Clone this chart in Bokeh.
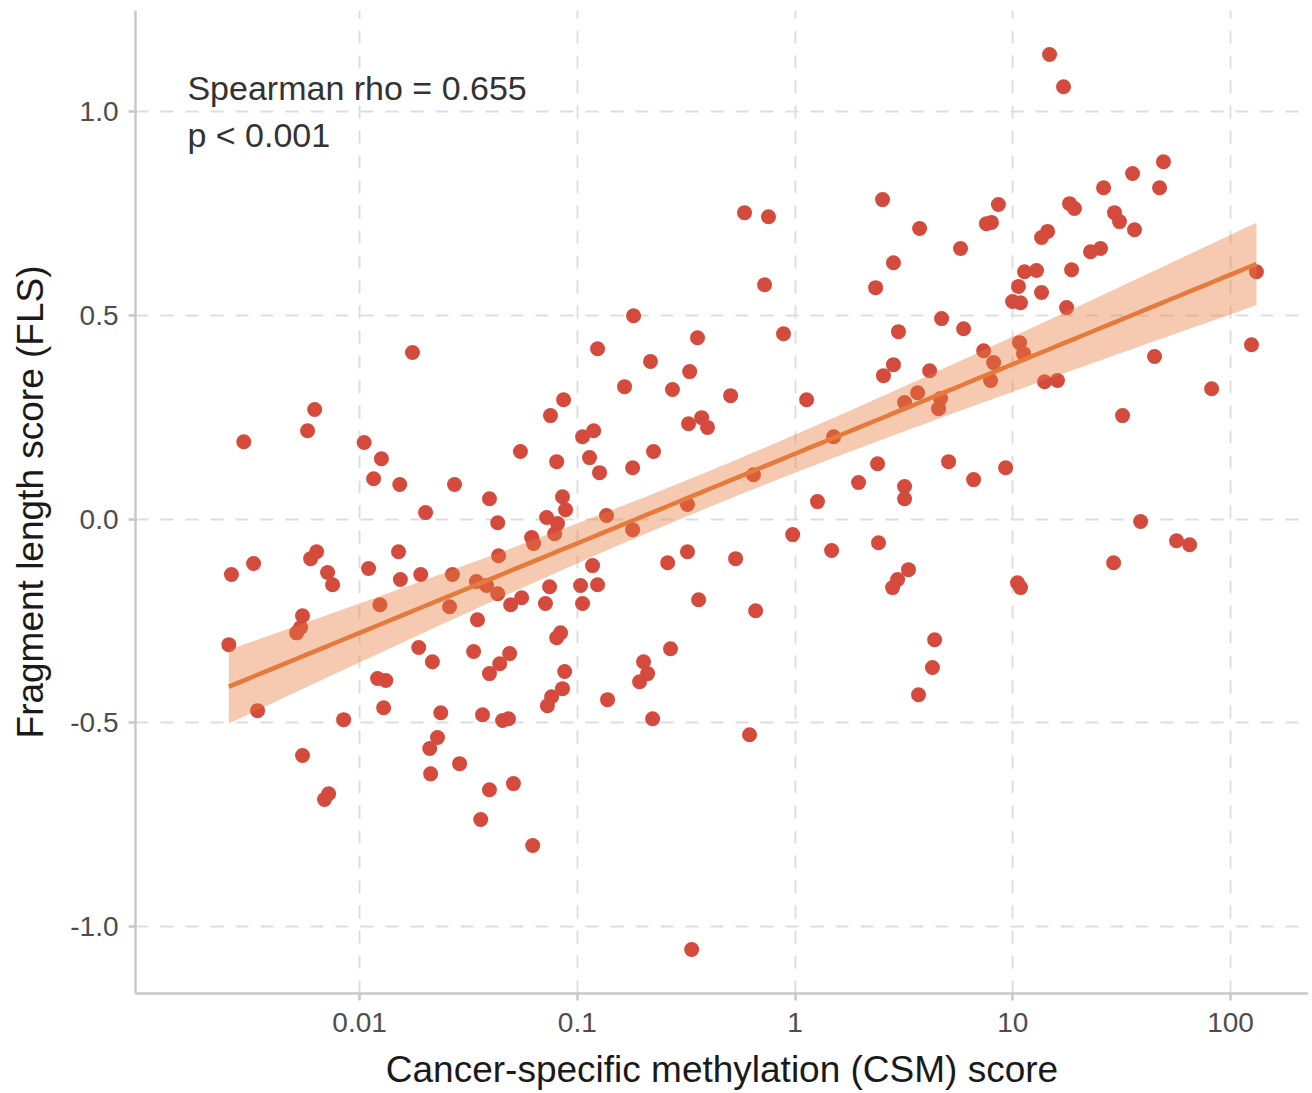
import numpy as np
from bokeh.plotting import figure
from bokeh.models import Range1d, CustomJSTickFormatter, NumeralTickFormatter, Label, FixedTicker
from bokeh.embed import file_html
from bokeh.resources import INLINE

# ---- data ----
csm_score = [
    0.00251, 0.00258, 0.00294, 0.00326, 0.00340, 0.00514, 0.00536, 0.00547, 0.00547, 0.00577,
    0.00596, 0.00622, 0.00635, 0.00690, 0.00713, 0.00721, 0.00752, 0.00845, 0.0105, 0.0110,
    0.0116, 0.0121, 0.0124, 0.0126, 0.0129, 0.0132, 0.0151, 0.0153, 0.0154, 0.0175,
    0.0187, 0.0191, 0.0201, 0.0210, 0.0212, 0.0216, 0.0228, 0.0236, 0.0259, 0.0267,
    0.0273, 0.0288, 0.0334, 0.0344, 0.0348, 0.0360, 0.0367, 0.0383, 0.0395, 0.0395,
    0.0395, 0.0431, 0.0431, 0.0435, 0.0440, 0.0454, 0.0483, 0.0489, 0.0494, 0.0509,
    0.0548, 0.0555, 0.0617, 0.0630, 0.0624, 0.0714, 0.0723, 0.0729, 0.0746, 0.0753,
    0.0762, 0.0787, 0.0804, 0.0804, 0.0811, 0.0838, 0.0855, 0.0855, 0.0865, 0.0875,
    0.0883, 0.1035, 0.1057, 0.1057, 0.1138, 0.1175, 0.1189, 0.1239, 0.1239, 0.1265,
    0.1362, 0.1377, 0.1648, 0.1795, 0.1795, 0.1813, 0.1932, 0.2014, 0.2104, 0.2168,
    0.2218, 0.2239, 0.2600, 0.2679, 0.2735, 0.3206, 0.3206, 0.3243, 0.3281, 0.3350,
    0.3565, 0.3606, 0.3724, 0.3963, 0.5058, 0.5333, 0.5861, 0.6180, 0.6442, 0.6592,
    0.7244, 0.7551, 0.8851, 0.9750, 1.130, 1.268, 1.472, 1.503, 1.957, 2.344,
    2.393, 2.417, 2.523, 2.547, 2.805, 2.831, 2.831, 2.958, 2.985, 3.184,
    3.184, 3.184, 3.319, 3.656, 3.690, 3.733, 4.150, 4.276, 4.375, 4.560,
    4.656, 4.710, 5.070, 5.754, 5.943, 6.607, 7.345, 7.568, 7.907, 7.980,
    8.166, 8.590, 9.268, 9.977, 10.51, 10.62, 10.74, 10.85, 10.85, 11.20,
    11.32, 12.85, 13.55, 13.55, 13.99, 14.45, 14.75, 16.04, 17.10, 17.66,
    18.23, 18.62, 19.19, 22.75, 25.29, 26.12, 29.04, 29.31, 30.90, 31.92,
    35.48, 36.22, 38.64, 44.77, 47.21, 49.20, 56.49, 64.86, 81.85, 124.8,
    131.5,
]
fls_score = [
    -0.308, -0.136, 0.190, -0.109, -0.470, -0.279, -0.266, -0.237, -0.580, 0.217,
    -0.097, 0.269, -0.080, -0.688, -0.131, -0.674, -0.161, -0.492, 0.188, -0.121,
    0.099, -0.391, -0.210, 0.148, -0.463, -0.396, -0.080, 0.085, -0.148, 0.409,
    -0.315, -0.136, 0.016, -0.563, -0.625, -0.350, -0.536, -0.475, -0.215, -0.136,
    0.085, -0.600, -0.325, -0.153, -0.247, -0.737, -0.480, -0.163, 0.050, -0.379,
    -0.664, -0.183, -0.009, -0.090, -0.355, -0.494, -0.490, -0.330, -0.210, -0.649,
    0.166, -0.193, -0.045, -0.060, -0.801, -0.207, 0.004, -0.458, -0.166, 0.254,
    -0.436, -0.036, 0.141, -0.291, -0.011, -0.279, 0.055, -0.416, 0.293, -0.374,
    0.023, -0.163, 0.202, -0.207, 0.151, -0.114, 0.217, 0.418, -0.161, 0.114,
    0.009, -0.443, 0.325, 0.126, -0.026, 0.499, -0.399, -0.350, -0.379, 0.387,
    -0.490, 0.166, -0.107, -0.318, 0.318, 0.036, -0.080, 0.234, 0.362, -1.056,
    0.445, -0.198, 0.249, 0.225, 0.303, -0.097, 0.752, -0.529, 0.109, -0.225,
    0.575, 0.742, 0.455, -0.038, 0.293, 0.043, -0.077, 0.202, 0.090, 0.568,
    0.136, -0.058, 0.784, 0.352, -0.168, 0.629, 0.379, -0.148, 0.460, 0.286,
    0.080, 0.050, -0.124, 0.310, -0.431, 0.713, 0.364, -0.364, -0.296, 0.271,
    0.296, 0.492, 0.141, 0.664, 0.467, 0.097, 0.413, 0.725, 0.340, 0.728,
    0.384, 0.772, 0.126, 0.534, -0.156, 0.571, 0.433, 0.531, -0.168, 0.406,
    0.607, 0.610, 0.556, 0.691, 0.337, 0.706, 1.140, 0.340, 1.061, 0.519,
    0.774, 0.612, 0.762, 0.656, 0.664, 0.813, -0.107, 0.752, 0.730, 0.254,
    0.848, 0.710, -0.006, 0.399, 0.813, 0.877, -0.053, -0.063, 0.320, 0.428,
    0.607,
]
x_ticks = [0.01, 0.1, 1, 10, 100]
y_ticks = [-1.0, -0.5, 0.0, 0.5, 1.0]
stat_lines = ["Spearman rho = 0.655", "p < 0.001"]
x_title = "Cancer-specific methylation (CSM) score"
y_title = "Fragment length score (FLS)"

# ---- linear fit on log10(x) with 95% confidence band ----
lx = np.log10(np.array(csm_score))
yv = np.array(fls_score)
n = len(yv)
slope, intercept = np.polyfit(lx, yv, 1)
gx = np.linspace(lx.min(), lx.max(), 120)
fit = intercept + slope * gx
resid = yv - (intercept + slope * lx)
s = np.sqrt(np.sum(resid ** 2) / (n - 2))
se = s * np.sqrt(1.0 / n + (gx - lx.mean()) ** 2 / np.sum((lx - lx.mean()) ** 2))
tq = 1.972
lower = fit - tq * se
upper = fit + tq * se
gx_lin = 10 ** gx

FONT = "Liberation Sans"
p = figure(width=1308, height=1092, x_axis_type="log",
           x_range=Range1d(10 ** -3.029, 10 ** 2.358), y_range=Range1d(-1.164, 1.248),
           output_backend="svg", toolbar_location=None,
           min_border_left=135, min_border_right=0, min_border_top=10, min_border_bottom=99)
p.outline_line_color = None
p.background_fill_color = "white"
p.border_fill_color = "white"

p.scatter(csm_score, fls_score, size=15, color="#d44b3e", line_color=None)
p.varea(x=gx_lin, y1=lower, y2=upper, fill_color="#e67a3a", fill_alpha=0.4)
p.line(gx_lin, fit, line_color="#e67a3a", line_width=4.5)

p.xaxis.ticker = FixedTicker(ticks=x_ticks)
p.yaxis.ticker = FixedTicker(ticks=y_ticks)
p.xaxis.formatter = CustomJSTickFormatter(code="return tick.toString();")
p.yaxis.formatter = NumeralTickFormatter(format="0.0")

for ax in (p.xaxis, p.yaxis):
    ax.axis_line_color = "#c8c8c8"
    ax.axis_line_width = 2.5
    ax.major_tick_line_color = "#c8c8c8"
    ax.major_tick_line_width = 2.5
    ax.major_tick_out = 7
    ax.major_tick_in = 0
    ax.minor_tick_line_color = None
    ax.major_label_text_font = FONT
    ax.major_label_text_font_size = "28px"
    ax.major_label_text_color = "#4d4d4d"
    ax.axis_label_text_font = FONT
    ax.axis_label_text_font_size = "37px"
    ax.axis_label_text_font_style = "normal"
    ax.axis_label_text_color = "#1a1a1a"

p.xaxis.axis_label = x_title
p.yaxis.axis_label = y_title
p.xaxis.major_label_standoff = 12
p.yaxis.major_label_standoff = 10
p.xaxis.axis_label_standoff = 14
p.yaxis.axis_label_standoff = 16

p.grid.grid_line_color = "#dedede"
p.grid.grid_line_width = 2
p.grid.grid_line_dash = "13 12"

p.add_layout(Label(x=0.00162, y=1.057, text=stat_lines[0], text_font=FONT,
                   text_font_size="34px", text_color="#333333", text_baseline="alphabetic"))
p.add_layout(Label(x=0.00162, y=0.942, text=stat_lines[1], text_font=FONT,
                   text_font_size="34px", text_color="#333333", text_baseline="alphabetic"))

open("out.html", "w").write(file_html(p, INLINE))
